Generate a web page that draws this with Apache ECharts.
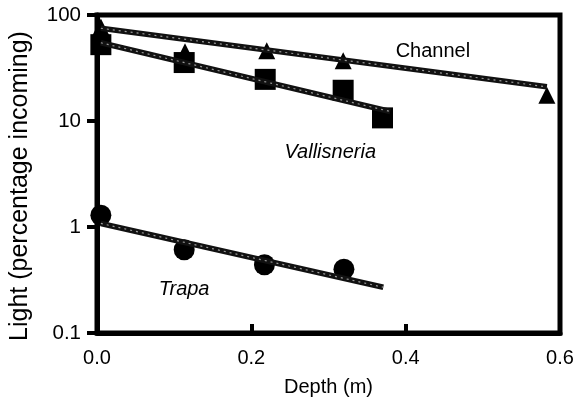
<!DOCTYPE html>
<html>
<head>
<meta charset="utf-8">
<script src="https://cdn.jsdelivr.net/npm/echarts@6/dist/echarts.min.js"></script>
<style>html,body{margin:0;padding:0;background:#fff}#c{width:579px;height:402px}</style>
</head>
<body>
<div id="c"></div>
<script>
// Measured data (depth in m, light as % incoming)
const channelDepth = [0.005, 0.114, 0.22, 0.319, 0.583];
const channelLight = [77, 45, 46, 37, 17.5];
const vallDepth = [0.005, 0.113, 0.218, 0.319, 0.37];
const vallLight = [52.5, 35.6, 24.7, 19.5, 10.7];
const trapaDepth = [0.005, 0.113, 0.217, 0.32];
const trapaLight = [1.29, 0.61, 0.44, 0.40];
// Fitted regression lines (end points)
const channelFitDepth = [0.005, 0.583];
const channelFitLight = [75, 21];
const vallFitDepth = [0.005, 0.38];
const vallFitLight = [54.7, 12.3];
const trapaFitDepth = [0.005, 0.371];
const trapaFitLight = [1.08, 0.27];
// Annotation labels
const annText = ['Channel', 'Vallisneria', 'Trapa'];
const annDepth = [0.387, 0.243, 0.08];
const annLight = [45, 5.1, 0.26];
const annItalic = [false, true, true];
const xTicks = [0, 0.2, 0.4, 0.6];

const zip = (a, b) => a.map((v, i) => [v, b[i]]);
const FONT = 'Liberation Sans, Arial, sans-serif';

function fitSeries(dx, dy) {
  return [
    { type: 'line', data: zip(dx, dy), symbol: 'none', z: 5, silent: true,
      lineStyle: { color: '#111', width: 5.5 } },
    { type: 'line', data: zip(dx, dy), symbol: 'none', z: 6, silent: true,
      lineStyle: { color: '#9a9a9a', width: 1.2, type: [2, 4] } }
  ];
}
function pts(dx, dy, symbol, size) {
  return { type: 'scatter', data: zip(dx, dy), symbol: symbol, symbolSize: size, z: 4,
    itemStyle: { color: '#000', opacity: 1 } };
}

const chart = echarts.init(document.getElementById('c'));
chart.setOption({
  animation: false,
  backgroundColor: '#fff',
  grid: { left: 96, right: 19, top: 15, bottom: 69, show: true,
    borderColor: '#000', borderWidth: 5, backgroundColor: 'transparent' },
  xAxis: {
    type: 'value', min: 0, max: 0.6, interval: 0.2,
    name: 'Depth (m)', nameLocation: 'middle', nameGap: 44,
    nameTextStyle: { fontFamily: FONT, fontSize: 20, color: '#000' },
    axisLine: { lineStyle: { color: '#000', width: 5 } },
    axisTick: { inside: true, length: 9, lineStyle: { color: '#000', width: 4 } },
    axisLabel: { fontFamily: FONT, fontSize: 20, color: '#000', margin: 15,
      formatter: v => v.toFixed(1), customValues: xTicks },
    splitLine: { show: false }
  },
  yAxis: {
    type: 'log', logBase: 10, min: 0.1, max: 100,
    name: 'Light (percentage incoming)', nameLocation: 'middle', nameGap: 64, nameRotate: 90,
    nameTextStyle: { fontFamily: FONT, fontSize: 25, color: '#000', padding: [0, 24, 0, 0] },
    axisLine: { lineStyle: { color: '#000', width: 5 } },
    axisTick: { inside: false, length: 10, lineStyle: { color: '#000', width: 4 } },
    axisLabel: { fontFamily: FONT, fontSize: 20.5, color: '#000', margin: 16,
      formatter: v => String(+v.toPrecision(3)) },
    splitLine: { show: false },
    minorTick: { show: false }
  },
  series: [
    pts(channelDepth, channelLight, 'triangle', 17),
    pts(vallDepth, vallLight, 'rect', 21),
    pts(trapaDepth, trapaLight, 'circle', 21),
    ...fitSeries(channelFitDepth, channelFitLight),
    ...fitSeries(vallFitDepth, vallFitLight),
    ...fitSeries(trapaFitDepth, trapaFitLight),
    {
      type: 'scatter', symbolSize: 0, z: 7, silent: true,
      itemStyle: { opacity: 1, color: '#000' },
      data: annText.map((t, i) => ({ value: [annDepth[i], annLight[i]], name: t,
        label: { fontStyle: annItalic[i] ? 'italic' : 'normal' } })),
      label: { show: true, position: [0, 0], align: 'left', verticalAlign: 'middle',
        formatter: p => p.name, fontFamily: FONT, fontSize: 20, color: '#000', opacity: 1 }
    }
  ]
});
</script>
</body>
</html>
